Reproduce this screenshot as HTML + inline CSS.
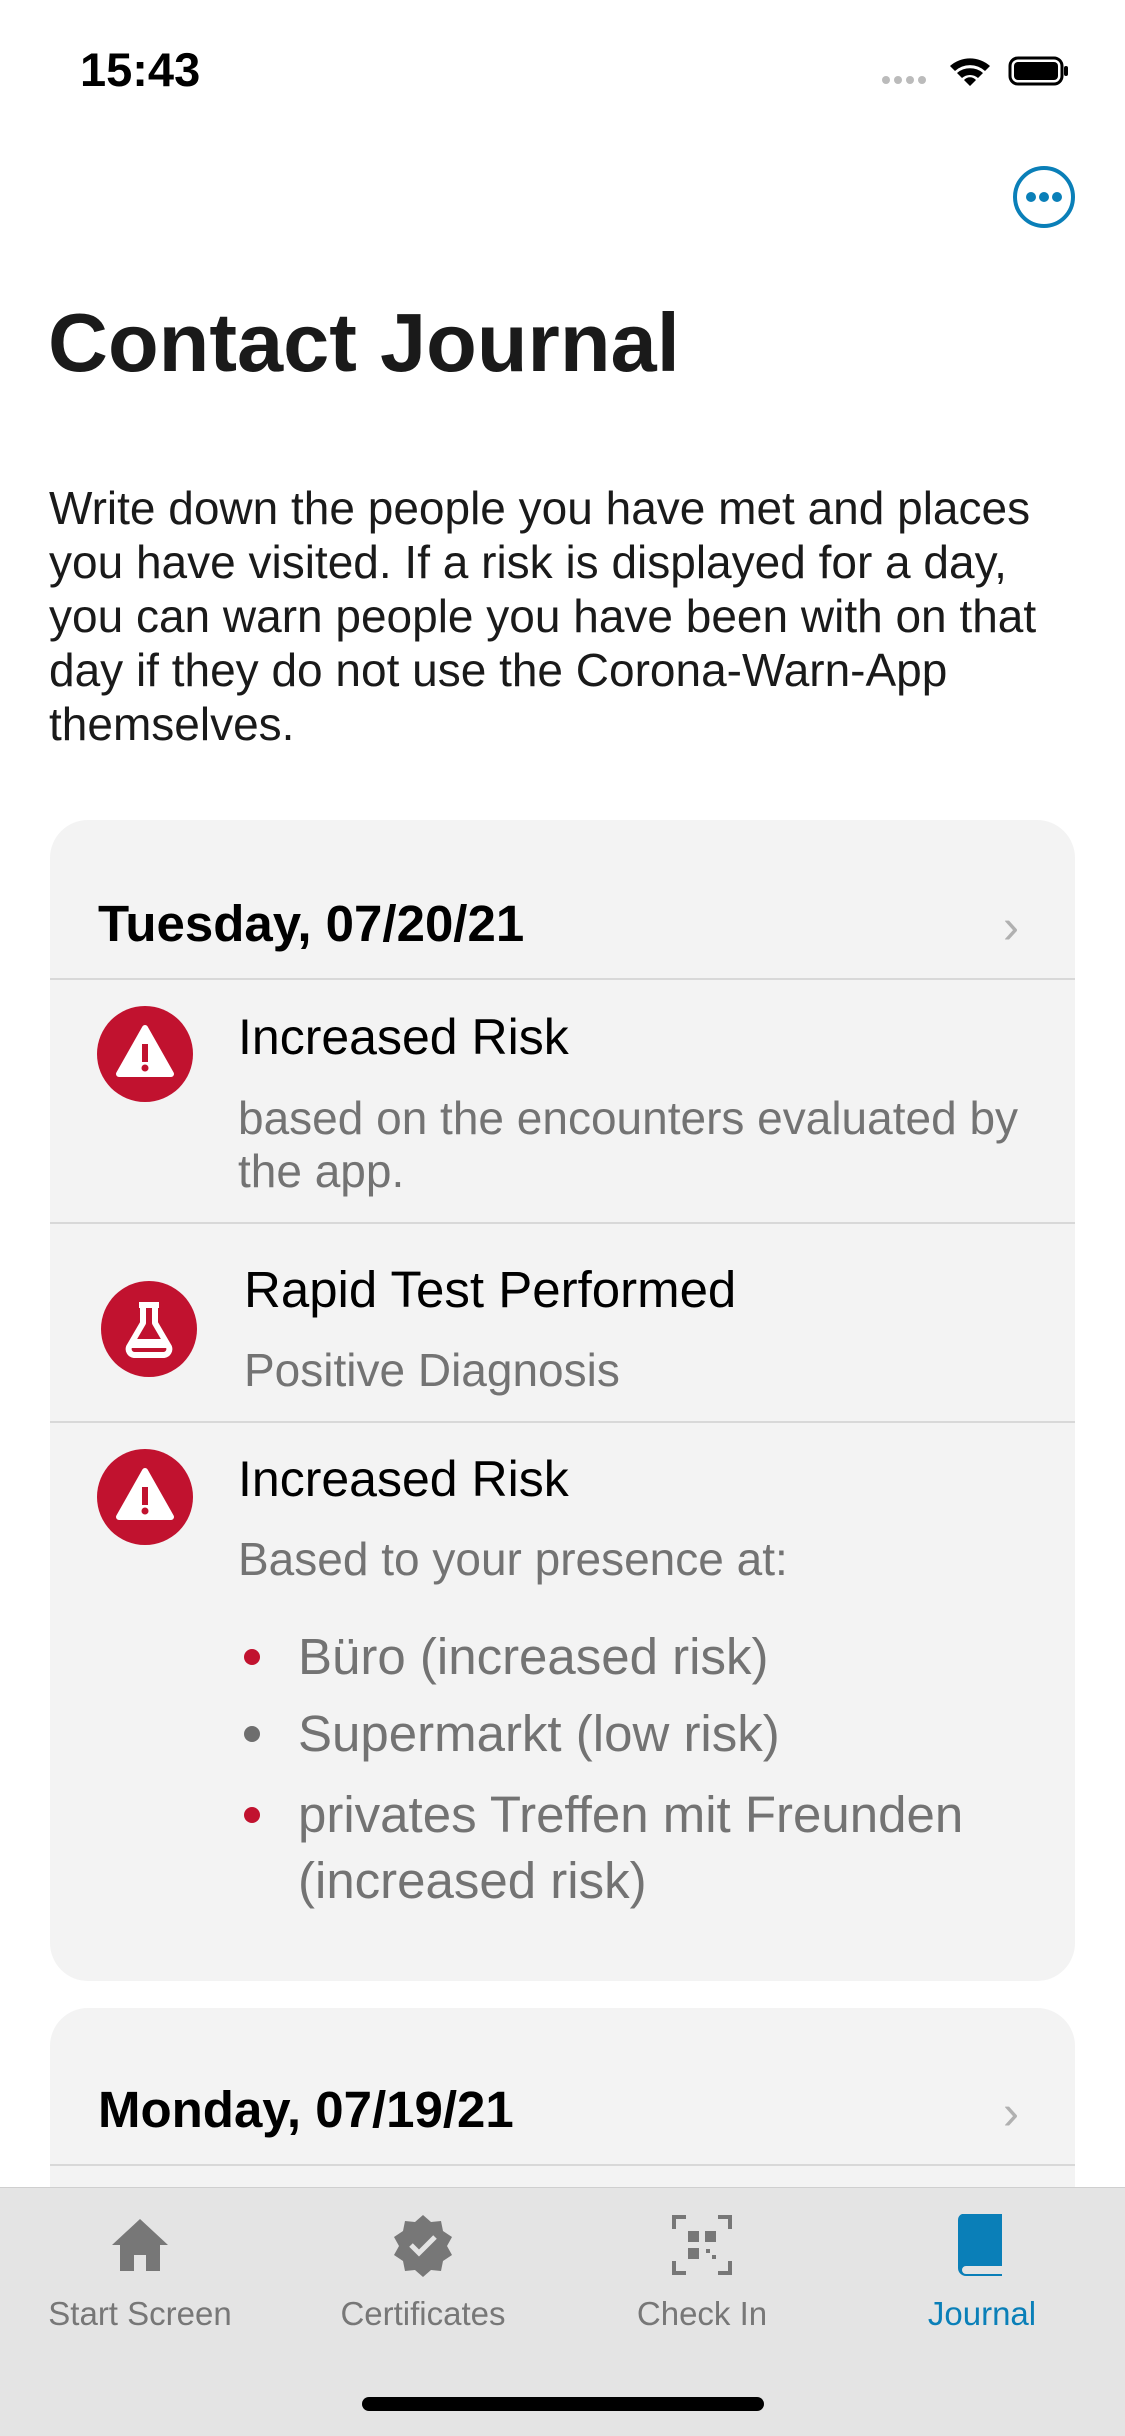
<!DOCTYPE html>
<html><head><meta charset="utf-8">
<style>
*{margin:0;padding:0;box-sizing:border-box}
body{width:1125px;height:2436px;background:#fff;position:relative;overflow:hidden;font-family:"Liberation Sans",sans-serif;color:#000}
.a{position:absolute;white-space:nowrap}
.card{position:absolute;left:50px;width:1025px;background:#f3f3f3;border-radius:38px}
.div{position:absolute;left:50px;width:1025px;height:2px;background:#d8d8d8}
.t1{font-size:51px;line-height:1}
.t2{font-size:50px;line-height:1}
.g{color:#737373;font-size:46px;line-height:1}
.ic{position:absolute;width:96px;height:96px;border-radius:50%;background:#c1122f}
.dot{position:absolute;width:16px;height:16px;border-radius:50%}
.lbl{position:absolute;font-size:33px;color:#777;transform:translateX(-50%);white-space:nowrap;top:2295px}
</style></head><body>
<div class="a" style="left:80px;top:42px;font-size:47px;font-weight:bold">15:43</div>
<div class="a" style="left:880px;top:52px;width:200px;height:34px">
 <svg width="200" height="34"><g fill="#bbb"><circle cx="6" cy="28" r="4"/><circle cx="18" cy="28" r="4"/><circle cx="30" cy="28" r="4"/><circle cx="42" cy="28" r="4"/></g>
 <path d="M70 14 a30 30 0 0 1 40 0 l-5 5 a22 22 0 0 0 -30 0z M77 21 a20 20 0 0 1 26 0 l-5 5 a12 12 0 0 0 -16 0z M84 28 l6 6 l6 -6 a8 8 0 0 0 -12 0z" fill="#000"/>
 <rect x="130" y="6" width="52" height="26" rx="8" fill="none" stroke="#000" stroke-width="3"/><rect x="134" y="10" width="44" height="18" rx="4" fill="#000"/><rect x="184" y="14" width="4" height="10" rx="2" fill="#000"/></svg></div>
<div class="a" style="left:1013px;top:166px;width:62px;height:62px;border:4px solid #0a7fb8;border-radius:50%">
 <svg width="54" height="54"><g fill="#0a7fb8"><circle cx="14" cy="27" r="5"/><circle cx="27" cy="27" r="5"/><circle cx="40" cy="27" r="5"/></g></svg></div>
<div class="a" style="left:48px;top:295px;font-size:83px;font-weight:bold;color:#1a1a1a">Contact Journal</div>
<div class="a" style="left:49px;top:481px;font-size:46px;line-height:54px;color:#1a1a1a;white-space:normal;width:1070px">Write down the people you have met and places<br>you have visited. If a risk is displayed for a day,<br>you can warn people you have been with on that<br>day if they do not use the Corona-Warn-App<br>themselves.</div>

<div class="card" style="top:820px;height:1161px"></div>
<div class="a t1" style="left:98px;top:898px;font-weight:bold">Tuesday, 07/20/21</div>
<div class="a" style="left:1003px;top:900px;color:#b0b0b0;font-size:48px">›</div>
<div class="div" style="top:978px"></div>

<div class="ic" style="left:97px;top:1006px"><svg width="96" height="96"><path d="M48 22 L74 68 L22 68Z" fill="#fff" stroke="#fff" stroke-width="6" stroke-linejoin="round"/><rect x="45" y="38" width="6" height="18" fill="#c1122f"/><circle cx="48" cy="62" r="3.5" fill="#c1122f"/></svg></div>
<div class="a t2" style="left:238px;top:1012px">Increased Risk</div>
<div class="a g" style="left:238px;top:1095px">based on the encounters evaluated by</div>
<div class="a g" style="left:238px;top:1148px">the app.</div>
<div class="div" style="top:1222px"></div>

<div class="ic" style="left:101px;top:1281px"><svg width="96" height="96"><path d="M38 24 h20 M42 24 v18 L28 66 a6 6 0 0 0 5 8 h30 a6 6 0 0 0 5 -8 L54 42 v-18" fill="none" stroke="#fff" stroke-width="6" stroke-linejoin="round"/><path d="M34 58 h28 l5 9 h-38z" fill="#fff"/></svg></div>
<div class="a t1" style="left:244px;top:1264px">Rapid Test Performed</div>
<div class="a g" style="left:244px;top:1347px">Positive Diagnosis</div>
<div class="div" style="top:1421px"></div>

<div class="ic" style="left:97px;top:1449px"><svg width="96" height="96"><path d="M48 22 L74 68 L22 68Z" fill="#fff" stroke="#fff" stroke-width="6" stroke-linejoin="round"/><rect x="45" y="38" width="6" height="18" fill="#c1122f"/><circle cx="48" cy="62" r="3.5" fill="#c1122f"/></svg></div>
<div class="a t2" style="left:238px;top:1454px">Increased Risk</div>
<div class="a g" style="left:238px;top:1536px">Based to your presence at:</div>
<div class="dot" style="left:244px;top:1649px;background:#c1122f"></div>
<div class="a g" style="left:298px;top:1631px;font-size:51px">Büro (increased risk)</div>
<div class="dot" style="left:244px;top:1726px;background:#6e6e6e"></div>
<div class="a g" style="left:298px;top:1708px;font-size:51px">Supermarkt (low risk)</div>
<div class="dot" style="left:244px;top:1807px;background:#c1122f"></div>
<div class="a g" style="left:298px;top:1789px;font-size:51px">privates Treffen mit Freunden</div>
<div class="a g" style="left:298px;top:1855px;font-size:51px">(increased risk)</div>

<div class="card" style="top:2008px;height:400px"></div>
<div class="a t1" style="left:98px;top:2084px;font-weight:bold">Monday, 07/19/21</div>
<div class="a" style="left:1003px;top:2086px;color:#b0b0b0;font-size:48px">›</div>
<div class="div" style="top:2164px"></div>

<div class="a" style="left:0;top:2187px;width:1125px;height:249px;background:#e4e4e4;border-top:1px solid #cfcfcf"></div>
<svg class="a" style="left:108px;top:2215px" width="64" height="60"><path d="M32 4 L60 30 H52 V56 H38 V40 H26 V56 H12 V30 H4Z" fill="#777"/></svg>
<svg class="a" style="left:391px;top:2213px" width="64" height="64"><path d="M32 2 l8 7 10-1 2 10 9 6-5 9 5 9-9 6-2 10-10-1-8 7-8-7-10 1-2-10-9-6 5-9-5-9 9-6 2-10 10 1z" fill="#777"/><path d="M20 32 l8 8 16-16" stroke="#e4e4e4" stroke-width="5" fill="none"/></svg>
<svg class="a" style="left:670px;top:2213px" width="64" height="64"><path d="M4 16V4h12M48 4h12v12M60 48v12H48M16 60H4V48" stroke="#777" stroke-width="4" fill="none"/><g fill="#777"><rect x="18" y="18" width="11" height="11"/><rect x="35" y="18" width="11" height="11"/><rect x="18" y="35" width="11" height="11"/><rect x="36" y="36" width="4" height="4"/><rect x="42" y="42" width="4" height="4"/></g></svg>
<svg class="a" style="left:956px;top:2212px" width="52" height="66"><path d="M6 2 H46 V54 H10 a4 4 0 0 0 0 8 H46 V64 H10 a8 8 0 0 1 -8 -8 V8 a6 6 0 0 1 4 -6z" fill="#0a7fb8"/></svg>
<div class="lbl" style="left:140px">Start Screen</div>
<div class="lbl" style="left:423px">Certificates</div>
<div class="lbl" style="left:702px">Check In</div>
<div class="lbl" style="left:982px;color:#0a7fb8">Journal</div>
<div class="a" style="left:362px;top:2397px;width:402px;height:14px;border-radius:7px;background:#000"></div>
</body></html>
